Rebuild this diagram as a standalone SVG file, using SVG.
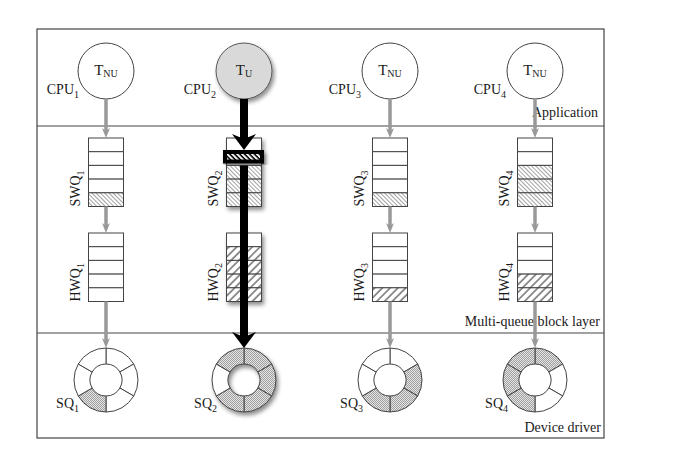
<svg xmlns="http://www.w3.org/2000/svg" xmlns:xlink="http://www.w3.org/1999/xlink" width="677" height="456" viewBox="0 0 677 456">
<style>
text{font-family:"Liberation Serif","Times New Roman",serif;font-size:14px;fill:#1a1a1a}
.sub{font-size:10px}
.tl{font-size:15px}
.frame{fill:none;stroke:#444;stroke-width:1.2}
.div{stroke:#444;stroke-width:1.2}
.cpu{fill:#fff;stroke:#444;stroke-width:1}
.cpuU{fill:#d9d9d9;stroke:#555;stroke-width:1}
.row{fill:#fff;stroke:#444;stroke-width:1}
.hs{fill:url(#hs);stroke:#444;stroke-width:1}
.hh{fill:url(#hh);stroke:#444;stroke-width:1}
.w{fill:#fff;stroke:#444;stroke-width:1}
.st{fill:url(#st);stroke:#444;stroke-width:1}
.ga{stroke:#999;stroke-width:3.5;fill:none}
.ba{stroke:#000;stroke-width:8;fill:none}
</style>
<defs>
<pattern id="hs" width="3" height="3" patternUnits="userSpaceOnUse" patternTransform="rotate(-45)"><rect width="3" height="3" fill="#fff"/><line x1="0.5" y1="0" x2="0.5" y2="3" stroke="#999" stroke-width="0.9"/></pattern>
<pattern id="hh" width="5.5" height="5.5" patternUnits="userSpaceOnUse" patternTransform="rotate(45)"><rect width="5.5" height="5.5" fill="#fff"/><line x1="1" y1="0" x2="1" y2="5.5" stroke="#666" stroke-width="1.4"/></pattern>
<pattern id="hb" width="3.5" height="3.5" patternUnits="userSpaceOnUse" patternTransform="rotate(-45)"><rect width="3.5" height="3.5" fill="#fff"/><line x1="1" y1="0" x2="1" y2="3.5" stroke="#000" stroke-width="1.6"/></pattern>
<pattern id="st" width="2" height="2" patternUnits="userSpaceOnUse"><rect width="2" height="2" fill="#e4e4e4"/><rect width="1" height="1" fill="#a0a0a0"/><rect x="1" y="1" width="1" height="1" fill="#a0a0a0"/></pattern>
<filter id="sh" x="-30%" y="-30%" width="160%" height="160%"><feDropShadow dx="2" dy="3" stdDeviation="2" flood-color="#000" flood-opacity="0.45"/></filter>
<marker id="ag" viewBox="0 0 10 10" refX="5" refY="5" markerWidth="10" markerHeight="10" markerUnits="userSpaceOnUse" orient="auto"><path d="M0,1 L10,5 L0,9 L3,5 Z" fill="#999"/></marker>
<marker id="ab" viewBox="0 0 16 24" refX="8" refY="12" markerWidth="16" markerHeight="24" markerUnits="userSpaceOnUse" orient="auto"><path d="M0,0 L16,12 L0,24 L5,12 Z" fill="#000"/></marker>
<path id="sA" d="M0,-32 A32,32 0 0 1 27.71,-16 L13.86,-8 A16,16 0 0 0 0,-16 Z"/>
<path id="sB" d="M27.71,-16 A32,32 0 0 1 27.71,16 L13.86,8 A16,16 0 0 0 13.86,-8 Z"/>
<path id="sC" d="M27.71,16 A32,32 0 0 1 0,32 L0,16 A16,16 0 0 0 13.86,8 Z"/>
<path id="sD" d="M0,32 A32,32 0 0 1 -27.71,16 L-13.86,8 A16,16 0 0 0 0,16 Z"/>
<path id="sE" d="M-27.71,16 A32,32 0 0 1 -27.71,-16 L-13.86,-8 A16,16 0 0 0 -13.86,8 Z"/>
<path id="sF" d="M-27.71,-16 A32,32 0 0 1 0,-32 L0,-16 A16,16 0 0 0 -13.86,-8 Z"/>
</defs>

<g id="frame">
<rect class="frame" x="37" y="29" width="567" height="409"/>
<line class="div" x1="37" y1="126" x2="604" y2="126"/>
<line class="div" x1="37" y1="333" x2="604" y2="333"/>
<text x="598" y="117" text-anchor="end">Application</text>
<text x="600" y="326" text-anchor="end">Multi-queue block layer</text>
<text x="601" y="432" text-anchor="end">Device driver</text>
</g>

<!-- CPU nodes -->
<g id="cpu1">
<circle class="cpu" cx="106" cy="71" r="28"/>
<text class="tl" x="106" y="75" text-anchor="middle">T<tspan class="sub" dy="2">NU</tspan></text>
<text x="79" y="94" text-anchor="end">CPU<tspan class="sub" dy="4">1</tspan></text>
</g>
<g id="cpu2">
<circle class="cpuU" cx="244" cy="71" r="28" filter="url(#sh)"/>
<text class="tl" x="244" y="75" text-anchor="middle">T<tspan class="sub" dy="2">U</tspan></text>
<text x="216" y="94" text-anchor="end">CPU<tspan class="sub" dy="4">2</tspan></text>
</g>
<g id="cpu3">
<circle class="cpu" cx="390" cy="71" r="28"/>
<text class="tl" x="390" y="75" text-anchor="middle">T<tspan class="sub" dy="2">NU</tspan></text>
<text x="361" y="94" text-anchor="end">CPU<tspan class="sub" dy="4">3</tspan></text>
</g>
<g id="cpu4">
<circle class="cpu" cx="535" cy="71" r="28"/>
<text class="tl" x="535" y="75" text-anchor="middle">T<tspan class="sub" dy="2">NU</tspan></text>
<text x="506" y="94" text-anchor="end">CPU<tspan class="sub" dy="4">4</tspan></text>
</g>

<!-- SWQ -->
<g id="swq1">
<rect class="row" x="88.5" y="138" width="35" height="13.7"/>
<rect class="row" x="88.5" y="151.7" width="35" height="13.7"/>
<rect class="row" x="88.5" y="165.4" width="35" height="13.7"/>
<rect class="row" x="88.5" y="179.1" width="35" height="13.7"/>
<rect class="hs" x="88.5" y="192.8" width="35" height="13.7"/>
<text transform="translate(80,206.5) rotate(-90)">SWQ<tspan class="sub" dy="4">1</tspan></text>
</g>
<g id="swq2">
<g filter="url(#sh)">
<rect class="row" x="226.5" y="138" width="35" height="13.7"/>
<rect class="row" x="226.5" y="151.7" width="35" height="13.7"/>
<rect class="hs" x="226.5" y="165.4" width="35" height="13.7"/>
<rect class="hs" x="226.5" y="179.1" width="35" height="13.7"/>
<rect class="hs" x="226.5" y="192.8" width="35" height="13.7"/>
</g>
<rect x="225" y="152" width="37" height="9.5" fill="url(#hb)" stroke="#000" stroke-width="4" filter="url(#sh)"/>
<text transform="translate(218,206.5) rotate(-90)">SWQ<tspan class="sub" dy="4">2</tspan></text>
</g>
<g id="swq3">
<rect class="row" x="372.5" y="138" width="35" height="13.7"/>
<rect class="row" x="372.5" y="151.7" width="35" height="13.7"/>
<rect class="row" x="372.5" y="165.4" width="35" height="13.7"/>
<rect class="row" x="372.5" y="179.1" width="35" height="13.7"/>
<rect class="hs" x="372.5" y="192.8" width="35" height="13.7"/>
<text transform="translate(364,206.5) rotate(-90)">SWQ<tspan class="sub" dy="4">3</tspan></text>
</g>
<g id="swq4">
<rect class="row" x="517.5" y="138" width="35" height="13.7"/>
<rect class="row" x="517.5" y="151.7" width="35" height="13.7"/>
<rect class="hs" x="517.5" y="165.4" width="35" height="13.7"/>
<rect class="hs" x="517.5" y="179.1" width="35" height="13.7"/>
<rect class="hs" x="517.5" y="192.8" width="35" height="13.7"/>
<text transform="translate(509,206.5) rotate(-90)">SWQ<tspan class="sub" dy="4">4</tspan></text>
</g>

<!-- HWQ -->
<g id="hwq1">
<rect class="row" x="88.5" y="233" width="35" height="13.7"/>
<rect class="row" x="88.5" y="246.7" width="35" height="13.7"/>
<rect class="row" x="88.5" y="260.4" width="35" height="13.7"/>
<rect class="row" x="88.5" y="274.1" width="35" height="13.7"/>
<rect class="row" x="88.5" y="287.8" width="35" height="13.7"/>
<text transform="translate(80,301.5) rotate(-90)">HWQ<tspan class="sub" dy="4">1</tspan></text>
</g>
<g id="hwq2">
<g filter="url(#sh)">
<rect class="row" x="226.5" y="233" width="35" height="13.7"/>
<rect class="hh" x="226.5" y="246.7" width="35" height="13.7"/>
<rect class="hh" x="226.5" y="260.4" width="35" height="13.7"/>
<rect class="hh" x="226.5" y="274.1" width="35" height="13.7"/>
<rect class="hh" x="226.5" y="287.8" width="35" height="13.7"/>
</g>
<text transform="translate(218,301.5) rotate(-90)">HWQ<tspan class="sub" dy="4">2</tspan></text>
</g>
<g id="hwq3">
<rect class="row" x="372.5" y="233" width="35" height="13.7"/>
<rect class="row" x="372.5" y="246.7" width="35" height="13.7"/>
<rect class="row" x="372.5" y="260.4" width="35" height="13.7"/>
<rect class="row" x="372.5" y="274.1" width="35" height="13.7"/>
<rect class="hh" x="372.5" y="287.8" width="35" height="13.7"/>
<text transform="translate(364,301.5) rotate(-90)">HWQ<tspan class="sub" dy="4">3</tspan></text>
</g>
<g id="hwq4">
<rect class="row" x="517.5" y="233" width="35" height="13.7"/>
<rect class="row" x="517.5" y="246.7" width="35" height="13.7"/>
<rect class="row" x="517.5" y="260.4" width="35" height="13.7"/>
<rect class="hh" x="517.5" y="274.1" width="35" height="13.7"/>
<rect class="hh" x="517.5" y="287.8" width="35" height="13.7"/>
<text transform="translate(509,301.5) rotate(-90)">HWQ<tspan class="sub" dy="4">4</tspan></text>
</g>

<!-- SQ rings -->
<g id="sq1">
<g transform="translate(106,380)">
<use xlink:href="#sA" class="w"/><use xlink:href="#sB" class="w"/><use xlink:href="#sC" class="w"/>
<use xlink:href="#sD" class="st"/><use xlink:href="#sE" class="w"/><use xlink:href="#sF" class="w"/>
</g>
<text x="79" y="408" text-anchor="end">SQ<tspan class="sub" dy="4">1</tspan></text>
</g>
<g id="sq2">
<g transform="translate(244,380)" filter="url(#sh)">
<use xlink:href="#sA" class="st"/><use xlink:href="#sB" class="st"/><use xlink:href="#sC" class="st"/>
<use xlink:href="#sD" class="st"/><use xlink:href="#sE" class="w"/><use xlink:href="#sF" class="st"/>
</g>
<text x="217" y="408" text-anchor="end">SQ<tspan class="sub" dy="4">2</tspan></text>
</g>
<g id="sq3">
<g transform="translate(390,380)">
<use xlink:href="#sA" class="w"/><use xlink:href="#sB" class="st"/><use xlink:href="#sC" class="st"/>
<use xlink:href="#sD" class="st"/><use xlink:href="#sE" class="w"/><use xlink:href="#sF" class="w"/>
</g>
<text x="363" y="408" text-anchor="end">SQ<tspan class="sub" dy="4">3</tspan></text>
</g>
<g id="sq4">
<g transform="translate(535,380)">
<use xlink:href="#sA" class="st"/><use xlink:href="#sB" class="w"/><use xlink:href="#sC" class="w"/>
<use xlink:href="#sD" class="st"/><use xlink:href="#sE" class="st"/><use xlink:href="#sF" class="st"/>
</g>
<text x="508" y="408" text-anchor="end">SQ<tspan class="sub" dy="4">4</tspan></text>
</g>

<!-- connectors -->
<g id="connectors">
<line class="ga" x1="106" y1="99" x2="106" y2="133" marker-end="url(#ag)"/>
<line class="ga" x1="106" y1="206.5" x2="106" y2="228" marker-end="url(#ag)"/>
<line class="ga" x1="106" y1="301.5" x2="106" y2="343" marker-end="url(#ag)"/>
<line class="ga" x1="390" y1="99" x2="390" y2="133" marker-end="url(#ag)"/>
<line class="ga" x1="390" y1="206.5" x2="390" y2="228" marker-end="url(#ag)"/>
<line class="ga" x1="390" y1="301.5" x2="390" y2="343" marker-end="url(#ag)"/>
<line class="ga" x1="535" y1="99" x2="535" y2="133" marker-end="url(#ag)"/>
<line class="ga" x1="535" y1="206.5" x2="535" y2="228" marker-end="url(#ag)"/>
<line class="ga" x1="535" y1="301.5" x2="535" y2="343" marker-end="url(#ag)"/>
<line class="ba" x1="244" y1="99" x2="244" y2="142" marker-end="url(#ab)"/>
<line class="ba" x1="244" y1="165.5" x2="244" y2="340" marker-end="url(#ab)"/>
</g>
</svg>
